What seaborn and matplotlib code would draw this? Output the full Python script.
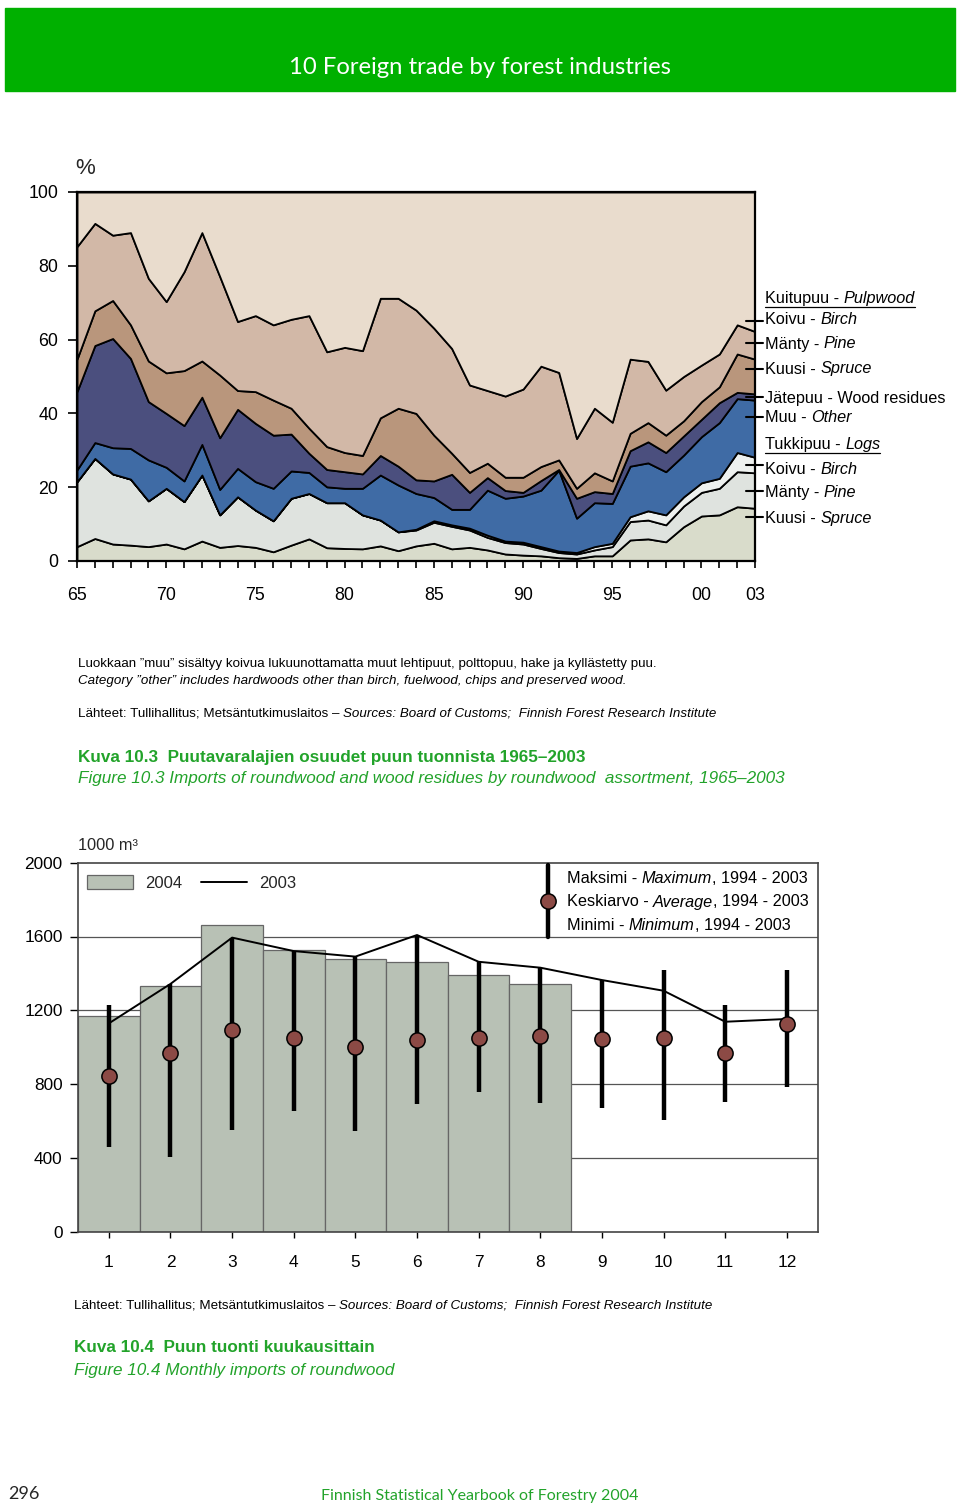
import matplotlib
matplotlib.use('Agg')
import numpy as np
import pandas as pd
import seaborn as sns
import matplotlib.pyplot as plt
from matplotlib.lines import Line2D
from matplotlib.patches import Patch, Rectangle

# ---- Figure 10.3: shares of assortments in roundwood imports, % ----
years = list(range(1965, 2004))
log_spruce = [3.9, 6.1, 4.6, 4.3, 3.9, 4.6, 3.3, 5.4, 3.7, 4.2,
              3.7, 2.5, 4.3, 6.0, 3.6, 3.4, 3.3, 4.1, 2.8, 4.1,
              4.8, 3.3, 3.7, 3.0, 1.9, 1.6, 1.4, 0.9, 0.7, 1.4,
              1.4, 5.7, 6.0, 5.2, 9.3, 12.2, 12.5, 14.7, 14.3]
log_pine = [17.6, 21.7, 19.0, 17.9, 12.4, 15.1, 12.8, 17.9, 8.8, 13.2,
            10.1, 8.4, 12.7, 12.3, 12.2, 12.4, 9.2, 7.0, 5.1, 4.3,
            5.7, 6.1, 4.7, 3.4, 3.1, 3.0, 2.0, 1.4, 1.2, 1.6,
            2.5, 5.0, 5.1, 4.6, 5.6, 6.4, 7.2, 9.5, 9.6]
log_birch = [0, 0, 0, 0, 0, 0, 0, 0, 0, 0,
             0, 0, 0, 0, 0, 0, 0, 0, 0, 0.2,
             0.4, 0.4, 0.5, 0.6, 0.4, 0.5, 0.5, 0.4, 0.4, 0.9,
             0.9, 1.3, 2.5, 2.7, 2.5, 2.6, 2.7, 5.2, 4.2]
other = [3.2, 4.3, 7.1, 8.3, 11.1, 5.7, 5.6, 8.3, 6.9, 7.7,
         7.7, 8.8, 7.4, 5.7, 4.3, 3.9, 7.2, 12.2, 12.7, 9.7,
         6.3, 4.2, 5.1, 12.2, 11.6, 12.5, 15.3, 21.9, 9.3, 11.9,
         10.8, 13.7, 13.0, 11.7, 11.3, 12.5, 15.1, 14.6, 15.5]
residues = [21.2, 26.3, 29.6, 24.4, 15.8, 14.6, 15.0, 12.8, 14.0, 16.0,
            15.8, 14.4, 10.0, 5.2, 4.7, 4.5, 3.9, 5.3, 5.1, 3.7,
            4.5, 9.5, 4.6, 3.4, 2.1, 1.0, 2.6, 0.2, 5.4, 3.0,
            2.7, 4.2, 5.7, 5.2, 5.2, 4.7, 5.4, 1.7, 1.7]
pulp_spruce = [8.8, 9.4, 10.3, 9.1, 11.0, 11.0, 14.9, 9.8, 17.0, 5.1,
               8.6, 9.5, 7.0, 6.8, 6.2, 5.2, 5.0, 10.2, 15.7, 18.0,
               12.4, 5.7, 5.4, 3.9, 3.6, 4.1, 3.8, 2.6, 2.7, 5.1,
               3.4, 4.7, 5.2, 4.7, 4.1, 4.8, 4.3, 10.4, 9.4]
pulp_pine = [30.5, 23.7, 17.7, 25.0, 22.4, 19.3, 26.8, 34.8, 26.7, 18.7,
             20.6, 20.4, 24.1, 30.5, 25.7, 28.5, 28.4, 32.4, 29.8, 28.0,
             29.0, 28.4, 23.7, 19.7, 22.0, 23.9, 27.2, 23.7, 13.5, 17.5,
             15.9, 20.1, 16.6, 12.2, 12.0, 9.9, 8.9, 7.9, 7.5]
pulp_birch = [14.8, 8.5, 11.7, 11.0, 23.4, 29.7, 21.6, 11.0, 22.9, 35.1,
              33.5, 36.0, 34.5, 33.5, 43.3, 42.1, 43.0, 28.8, 28.8, 32.0,
              36.9, 42.4, 52.3, 53.8, 55.3, 53.4, 47.2, 48.9, 66.8, 58.6,
              62.4, 45.3, 45.9, 53.7, 50.0, 46.9, 43.9, 36.0, 37.8]
year_labels = {1965: '65', 1970: '70', 1975: '75', 1980: '80', 1985: '85',
               1990: '90', 1995: '95', 2000: '00', 2003: '03'}

# ---- Figure 10.4: monthly imports, 1000 m3 ----
months = list(range(1, 13))
months_2004 = [1, 2, 3, 4, 5, 6, 7, 8]
imports_2004 = [1171, 1333, 1662, 1527, 1476, 1463, 1393, 1341]
imports_2003 = [1129, 1343, 1594, 1521, 1491, 1608, 1463, 1431, 1364, 1306, 1138, 1153]
max_9403 = [1229, 1343, 1594, 1521, 1491, 1608, 1463, 1431, 1364, 1418, 1229, 1418]
avg_9403 = [846, 967, 1093, 1051, 1003, 1039, 1051, 1061, 1043, 1048, 970, 1124]
min_9403 = [457, 407, 551, 656, 547, 692, 759, 696, 669, 605, 705, 786]

GREEN = '#00b000'
TXT_GREEN = '#22a32a'
NARROW = ['Liberation Sans Narrow', 'Liberation Sans', 'DejaVu Sans']

sns.set_theme(style='white')
plt.rcParams['font.family'] = NARROW

W, H = 960, 1510
fig = plt.figure(figsize=(W / 100, H / 100), dpi=100)
rend = fig.canvas.get_renderer()


def fx(x):
    return x / W


def fy(y):
    return 1 - y / H


def rich(x, y, parts, size, color='black', gap=0.27, underline=False):
    # parts: (text, style, weight); drawn left to right on one line
    cx = x
    for i, (txt, style, weight) in enumerate(parts):
        t = fig.text(fx(cx), fy(y), txt, fontsize=size, style=style,
                     weight=weight, color=color, ha='left', va='center')
        bb = t.get_window_extent(renderer=rend)
        cx += bb.width
        if i < len(parts) - 1 and not parts[i + 1][0].startswith(','):
            cx += size * gap * 100 / 72
    if underline:
        fig.add_artist(Line2D([fx(x), fx(cx)], [fy(y + size * 0.66)] * 2,
                              color=color, lw=0.9))
    return cx


# header band
fig.add_artist(Rectangle((fx(5), fy(91)), fx(950), 83 / H,
                         transform=fig.transFigure, color=GREEN, zorder=0))
fig.text(0.5, fy(68), '10 Foreign trade by forest industries', color='white',
         fontsize=17.2, family='Lato', ha='center', va='center')

# ---------------- top chart ----------------
ax1 = fig.add_axes([fx(77), fy(561), fx(755 - 77), (561 - 192) / H])
layers = [log_spruce, log_pine, log_birch, other, residues,
          pulp_spruce, pulp_pine, pulp_birch]
colors = ['#d9dccb', '#dfe3df', '#eef1ef', '#3f6ba5', '#4b4f7e',
          '#b9967c', '#d2b8a7', '#e9dccd']
ax1.stackplot(years, layers, colors=colors, edgecolor='black', linewidth=1.3)
ax1.set_xlim(1965, 2003)
ax1.set_ylim(0, 100)
ax1.set_yticks(range(0, 101, 20))
ax1.set_xticks(years)
ax1.set_xticklabels([year_labels.get(y, '') for y in years])
ax1.tick_params(axis='y', direction='out', length=6.5, width=1.2, pad=7,
                labelsize=12.8, left=True, colors='black')
ax1.tick_params(axis='x', direction='out', length=5, width=1.2, pad=13.5,
                labelsize=12.8, bottom=True, colors='black')
for s in ax1.spines.values():
    s.set_color('black')
    s.set_linewidth(1.6)
fig.text(fx(85), fy(168), '%', fontsize=16, ha='center', va='center')

# side legend with pointers
legend_rows = [
    (299, [('Kuitupuu -', 'normal', 'normal'), ('Pulpwood', 'italic', 'normal')], True, None),
    (320, [('Koivu -', 'normal', 'normal'), ('Birch', 'italic', 'normal')], False, 321),
    (344, [('Mänty -', 'normal', 'normal'), ('Pine', 'italic', 'normal')], False, 343),
    (369, [('Kuusi -', 'normal', 'normal'), ('Spruce', 'italic', 'normal')], False, 369),
    (398, [('Jätepuu - Wood residues', 'normal', 'normal')], False, 397),
    (418, [('Muu -', 'normal', 'normal'), ('Other', 'italic', 'normal')], False, 417),
    (445, [('Tukkipuu -', 'normal', 'normal'), ('Logs', 'italic', 'normal')], True, None),
    (469, [('Koivu -', 'normal', 'normal'), ('Birch', 'italic', 'normal')], False, 465),
    (493, [('Mänty -', 'normal', 'normal'), ('Pine', 'italic', 'normal')], False, 491),
    (519, [('Kuusi -', 'normal', 'normal'), ('Spruce', 'italic', 'normal')], False, 517),
]
for ty, parts, ul, tick_y in legend_rows:
    rich(765, ty, parts, 11.7, underline=ul)
    if tick_y is not None:
        fig.add_artist(Line2D([fx(746), fx(763)], [fy(tick_y)] * 2,
                              color='black', lw=1.5))

# notes and caption 10.3
rich(78, 664, [('Luokkaan ”muu” sisältyy koivua lukuunottamatta muut lehtipuut, polttopuu, hake ja kyllästetty puu.', 'normal', 'normal')], 9.6)
rich(78, 681, [('Category ”other” includes hardwoods other than birch, fuelwood, chips and preserved wood.', 'italic', 'normal')], 9.6)
rich(78, 713, [('Lähteet: Tullihallitus; Metsäntutkimuslaitos –', 'normal', 'normal'),
               ('Sources: Board of Customs;  Finnish Forest Research Institute', 'italic', 'normal')], 9.6)
rich(78, 757, [('Kuva 10.3  Puutavaralajien osuudet puun tuonnista 1965–2003', 'normal', 'bold')], 12.3, color=TXT_GREEN)
rich(78, 779, [('Figure 10.3 Imports of roundwood and wood residues by roundwood  assortment, 1965–2003', 'italic', 'normal')], 12.3, color=TXT_GREEN)

# ---------------- bottom chart ----------------
ax2 = fig.add_axes([fx(78), fy(1231.7), fx(817.7 - 78), 369 / H])
for v in [400, 800, 1200, 1600]:
    ax2.axhline(v, color='#555555', lw=0.9, zorder=0)
bars = pd.DataFrame({'month': months_2004, 'imports': imports_2004})
sns.barplot(data=bars, x='month', y='imports', native_scale=True, width=1,
            color='#b8c1b5', saturation=1, edgecolor='#666666', linewidth=0.9,
            errorbar=None, ax=ax2, zorder=1)
sns.lineplot(x=months, y=imports_2003, color='black', lw=1.4, ax=ax2, zorder=3)
ax2.vlines(months, min_9403, max_9403, color='black', lw=3.2, zorder=4)
sns.scatterplot(x=months, y=avg_9403, s=120, color='#8c4a45', edgecolor='black',
                linewidth=1.1, ax=ax2, zorder=5)
ax2.set_xlim(0.5, 12.5)
ax2.set_ylim(0, 2000)
ax2.set_xticks(months)
ax2.set_yticks(range(0, 2001, 400))
ax2.set_xlabel('')
ax2.set_ylabel('')
ax2.tick_params(axis='y', direction='out', length=6, width=1, pad=5,
                labelsize=12.4, left=True, colors='black')
ax2.tick_params(axis='x', direction='out', length=4, width=1, pad=13,
                labelsize=12.4, bottom=True, colors='black')
for s in ax2.spines.values():
    s.set_color('#444444')
    s.set_linewidth(1.2)

handles = [Patch(facecolor='#b8c1b5', edgecolor='#666666', lw=0.9, label='2004'),
           Line2D([], [], color='black', lw=1.4, label='2003')]
ax2.legend(handles=handles, ncol=2, frameon=False, fontsize=12,
           loc='center left', bbox_to_anchor=(fx(87), fy(883)),
           bbox_transform=fig.transFigure, borderpad=0, borderaxespad=0,
           handlelength=2.75, handleheight=0.85, handletextpad=0.75,
           columnspacing=1.1)

# range legend
fig.add_artist(Line2D([fx(548), fx(548)], [fy(865), fy(937)], color='black', lw=3.2))
fig.add_artist(Line2D([fx(548)], [fy(901)], marker='o', markersize=11,
                      markerfacecolor='#8c4a45', markeredgecolor='black',
                      markeredgewidth=1.1, linestyle='none'))
rich(567, 879, [('Maksimi -', 'normal', 'normal'), ('Maximum', 'italic', 'normal'),
                (', 1994 - 2003', 'normal', 'normal')], 11.7)
rich(567, 902, [('Keskiarvo -', 'normal', 'normal'), ('Average', 'italic', 'normal'),
                (', 1994 - 2003', 'normal', 'normal')], 11.7)
rich(567, 925, [('Minimi -', 'normal', 'normal'), ('Minimum', 'italic', 'normal'),
                (', 1994 - 2003', 'normal', 'normal')], 11.7)
fig.text(fx(78), fy(845), '1000 m³', fontsize=11.8, ha='left', va='center')

# caption 10.4
rich(74, 1305, [('Lähteet: Tullihallitus; Metsäntutkimuslaitos –', 'normal', 'normal'),
                ('Sources: Board of Customs;  Finnish Forest Research Institute', 'italic', 'normal')], 9.6)
rich(74, 1348, [('Kuva 10.4  Puun tuonti kuukausittain', 'normal', 'bold')], 12.3, color=TXT_GREEN)
rich(74, 1370, [('Figure 10.4 Monthly imports of roundwood', 'italic', 'normal')], 12.3, color=TXT_GREEN)

# footer
fig.text(fx(8), fy(1494), '296', fontsize=13, family='Lato', ha='left', va='center')
fig.text(0.5, fy(1496), 'Finnish Statistical Yearbook of Forestry 2004', fontsize=11.5,
         family='Lato', color=TXT_GREEN, ha='center', va='center')

fig.savefig('out.png', dpi=100)
